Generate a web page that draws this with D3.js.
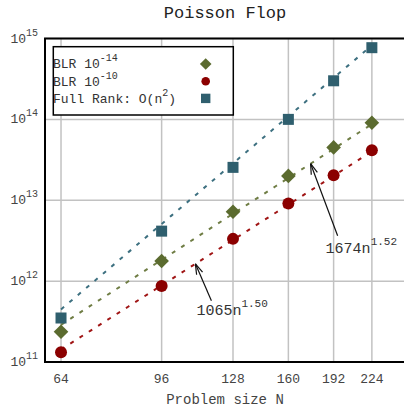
<!DOCTYPE html>
<html><head><meta charset="utf-8">
<script src="https://cdn.jsdelivr.net/npm/d3@7"></script>
<style>html,body{margin:0;padding:0;background:#fff;overflow:hidden}</style>
</head><body>
<script>
// Problem sizes N and measured flop counts
const sizes = [64, 96, 128, 160, 192, 224];
const blr14 = [2.37e11, 1.77e12, 7.2e12, 2.0e13, 4.5e13, 9.1e13];
const blr10 = [1.32e11, 8.7e11, 3.33e12, 9.1e12, 2.04e13, 4.14e13];
const fullRank = [3.5e11, 4.15e12, 2.55e13, 1.0e14, 3.0e14, 7.7e14];

// Legend labels: base text, superscript, trailing text
const legendBase = ["BLR 10", "BLR 10", "Full Rank: O(n"];
const legendSup = ["-14", "-10", "2"];
const legendTail = ["", "", ")"];

// Fitted models c * n^p with n = N^3
const fitCoefs = [1674, 1065, 6.5];
const fitPows = [1.52, 1.50, 2];

// Annotated fits: which series, at which N, and the label
const noteSeries = [0, 1];
const noteN = [175, 110];
const noteBase = ["1674n", "1065n"];
const noteSup = ["1.52", "1.50"];

const yTickExps = [11, 12, 13, 14, 15];

const colors = ["#5b6b2f", "#8b0000", "#2f5f6e"];
const lineColors = ["#6f7d44", "#a01515", "#3d7080"];
const shapes = ["diamond", "circle", "square"];
const seriesData = [blr14, blr10, fullRank];

const W = 404, H = 409;
const font = "'Courier New', 'Liberation Mono', monospace";
const svg = d3.select("body").append("svg").attr("width", W).attr("height", H)
  .style("font-family", font);

const x = d3.scaleLog().domain([60, 256]).range([45, 405]);
const y = d3.scaleLog().domain([1e11, 1e15]).range([362, 38.5]);

// grid
const grid = svg.append("g");
grid.selectAll("line.v").data(sizes).join("line")
  .attr("x1", d => x(d)).attr("x2", d => x(d))
  .attr("y1", y(1e15)).attr("y2", y(1e11))
  .attr("stroke", "#c2c2c2").attr("stroke-width", 1.5);
grid.selectAll("line.h").data(yTickExps).join("line")
  .attr("x1", 45).attr("x2", W)
  .attr("y1", d => y(Math.pow(10, d))).attr("y2", d => y(Math.pow(10, d)))
  .attr("stroke", "#c2c2c2").attr("stroke-width", 1.5);

// fitted dashed lines
const fitVal = (i, N) => fitCoefs[i] * Math.pow(N * N * N, fitPows[i]);
const line = d3.line().x(d => x(d[0])).y(d => y(d[1]));
[2, 0, 1].forEach(i => {
  const pts = d3.range(64, 224.01, 4).map(N => [N, fitVal(i, N)]);
  svg.append("path").attr("d", line(pts)).attr("fill", "none")
    .attr("stroke", lineColors[i]).attr("stroke-width", 2)
    .attr("stroke-dasharray", "4,7");
});

// markers
function drawMarker(g, shape, cx, cy, s, color) {
  if (shape === "diamond") {
    g.append("path").attr("d", `M${cx},${cy - s}L${cx + s},${cy}L${cx},${cy + s}L${cx - s},${cy}Z`).attr("fill", color);
  } else if (shape === "circle") {
    g.append("circle").attr("cx", cx).attr("cy", cy).attr("r", s).attr("fill", color);
  } else {
    g.append("rect").attr("x", cx - s).attr("y", cy - s).attr("width", 2 * s).attr("height", 2 * s).attr("fill", color);
  }
}
const markSize = [7.3, 6, 5.5];
const marks = svg.append("g");
seriesData.forEach((vals, i) => {
  vals.forEach((v, j) => drawMarker(marks, shapes[i], x(sizes[j]), y(v), markSize[i], colors[i]));
});

// annotations with open arrows
const tailOff = [[27, 72], [16, 37]];
const textOff = [[15, 89], [1, 51]];
noteSeries.forEach((si, k) => {
  const tx = x(noteN[k]), ty = y(fitVal(si, noteN[k]));
  const ax = tx + tailOff[k][0], ay = ty + tailOff[k][1];
  const g = svg.append("g").attr("stroke", "#111").attr("stroke-width", 1.2).attr("fill", "none");
  g.append("line").attr("x1", ax).attr("y1", ay).attr("x2", tx).attr("y2", ty);
  const ang = Math.atan2(ay - ty, ax - tx);
  [-0.3, 0.3].forEach(da => {
    g.append("line").attr("x1", tx).attr("y1", ty)
      .attr("x2", tx + 11 * Math.cos(ang + da)).attr("y2", ty + 11 * Math.sin(ang + da));
  });
  const t = svg.append("text").attr("x", tx + textOff[k][0]).attr("y", ty + textOff[k][1])
    .attr("fill", "#333").style("font-size", "15px");
  t.append("tspan").text(noteBase[k]);
  t.append("tspan").attr("dy", -8).style("font-size", "11px").text(noteSup[k]);
});

// axes frame
svg.append("line").attr("x1", 45).attr("x2", 45).attr("y1", 38.5).attr("y2", 362)
  .attr("stroke", "#000").attr("stroke-width", 2);
svg.append("line").attr("x1", 44).attr("x2", W).attr("y1", 362).attr("y2", 362)
  .attr("stroke", "#000").attr("stroke-width", 2);
svg.append("line").attr("x1", 44).attr("x2", W).attr("y1", 38.5).attr("y2", 38.5)
  .attr("stroke", "#000").attr("stroke-width", 2);

// y tick labels
yTickExps.forEach(e => {
  const t = svg.append("text").attr("x", 38).attr("y", y(Math.pow(10, e)) + 4)
    .attr("text-anchor", "end").attr("fill", "#444").style("font-size", "13px");
  t.append("tspan").text("10");
  t.append("tspan").attr("dy", -7).style("font-size", "10px").text(String(e));
});

// x tick labels
svg.append("g").selectAll("text").data(sizes).join("text")
  .attr("x", d => x(d)).attr("y", 383).attr("text-anchor", "middle")
  .attr("fill", "#444").style("font-size", "13px").text(d => d);

// titles
svg.append("text").attr("x", 225).attr("y", 18).attr("text-anchor", "middle")
  .attr("fill", "#222").style("font-size", "17px").text("Poisson Flop");
svg.append("text").attr("x", 225).attr("y", 404).attr("text-anchor", "middle")
  .attr("fill", "#444").style("font-size", "14px").text("Problem size N");

// legend
const lg = svg.append("g");
lg.append("rect").attr("x", 53.3).attr("y", 46.7).attr("width", 180).attr("height", 68.3)
  .attr("fill", "#fff").attr("stroke", "#000").attr("stroke-width", 1.5);
const legSize = [5.8, 4.3, 4.7];
legendBase.forEach((b, i) => {
  const by = 68.3 + i * 17.2;
  const t = lg.append("text").attr("x", 53).attr("y", by).attr("fill", "#333").style("font-size", "13px");
  t.append("tspan").text(b);
  t.append("tspan").attr("dy", -7).style("font-size", "10px").text(legendSup[i]);
  if (legendTail[i]) t.append("tspan").attr("dy", 7).style("font-size", "13px").text(legendTail[i]);
  drawMarker(lg, shapes[i], 205.7, by - 4.3, legSize[i], colors[i]);
});
</script>
</body></html>
